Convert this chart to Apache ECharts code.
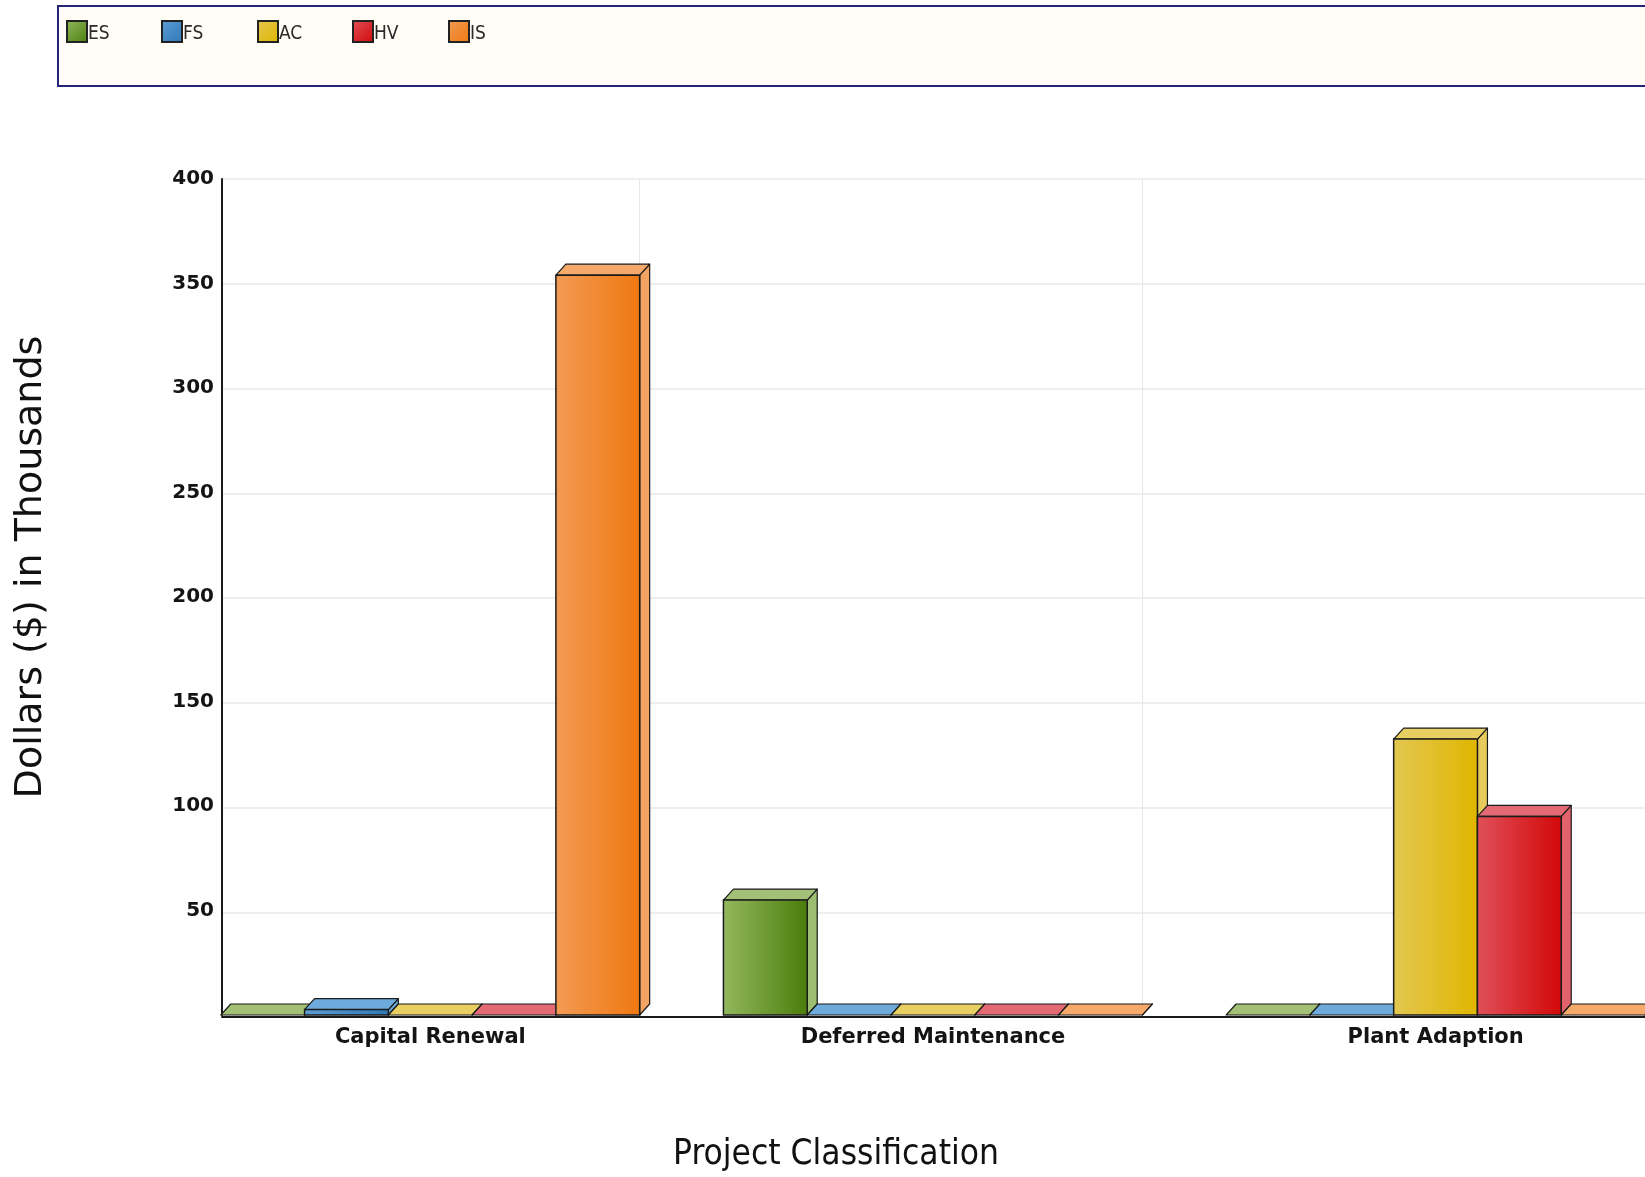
<!DOCTYPE html>
<html>
<head>
<meta charset="utf-8">
<title>Project Classification</title>
<script src="https://cdn.jsdelivr.net/npm/echarts@6/dist/echarts.min.js"></script>
<style>
  html, body { margin: 0; padding: 0; background: #ffffff; }
  #chart { width: 1645px; height: 1177px; }
</style>
</head>
<body>
<div id="chart"></div>
<script>
// Project classifications on the category axis
const categories = ['Capital Renewal', 'Deferred Maintenance', 'Plant Adaption'];

// Funding groups (legend order)
const groupNames = ['ES', 'FS', 'AC', 'HV', 'IS'];

// Dollars in thousands, one value per classification
const esValues = [0, 55, 0];
const fsValues = [2.6, 0, 0];
const acValues = [0, 0, 132];
const hvValues = [0, 0, 95];
const isValues = [354, 0, 0];

// Value axis range
const yMin = 0;
const yMax = 400;
const yStep = 50;

const groupValues = [esValues, fsValues, acValues, hvValues, isValues];

// Face colours for each group: front gradient (light -> dark), top and side faces
const palette = [
  { light: '#93b85e', dark: '#4a7d0a', top: '#a2c177', side: '#9dbd70' },
  { light: '#5d9dd2', dark: '#2f78b8', top: '#6eaadb', side: '#66a4d8' },
  { light: '#e3c752', dark: '#e0b600', top: '#e8cf62', side: '#e6cb5c' },
  { light: '#e0505a', dark: '#d20808', top: '#e36a74', side: '#e2626c' },
  { light: '#f29b55', dark: '#f07810', top: '#f5a96a', side: '#f3a463' }
];
const edgeColor = '#1b1b1b';
const depthX = 10;
const depthY = 11;

// Draws one bar as a box: right side face, top face, then the front face.
function renderBox(params, api) {
  const cat = api.value(0);
  const val = api.value(1);
  const band = api.size([1, 0])[0];
  const slot = band / 6;
  const zero = api.coord([cat, 0]);
  const peak = api.coord([cat, val]);
  const x0 = zero[0] - band / 2 + slot * (params.seriesIndex + 1);
  const x1 = x0 + slot;
  const base = zero[1];
  const top = peak[1];
  const pal = palette[params.seriesIndex];
  const children = [
    {
      type: 'polygon',
      shape: { points: [[x1, base], [x1 + depthX, base - depthY], [x1 + depthX, top - depthY], [x1, top]] },
      style: { fill: pal.side, stroke: edgeColor, lineWidth: 1.2, lineJoin: 'round' }
    },
    {
      type: 'polygon',
      shape: { points: [[x0, top], [x0 + depthX, top - depthY], [x1 + depthX, top - depthY], [x1, top]] },
      style: { fill: pal.top, stroke: edgeColor, lineWidth: 1.2, lineJoin: 'round' }
    }
  ];
  if (base - top > 0.5) {
    children.push({
      type: 'rect',
      shape: { x: x0, y: top, width: slot, height: base - top },
      style: {
        fill: new echarts.graphic.LinearGradient(0, 0, 1, 0, [
          { offset: 0, color: pal.light },
          { offset: 1, color: pal.dark }
        ]),
        stroke: edgeColor,
        lineWidth: 1.5
      }
    });
  }
  return { type: 'group', children: children };
}

const series = groupNames.map(function (name, i) {
  return {
    name: name,
    type: 'custom',
    xAxisIndex: 0,
    yAxisIndex: 0,
    renderItem: renderBox,
    encode: { x: 0, y: 1 },
    itemStyle: {
      color: new echarts.graphic.LinearGradient(0, 0, 1, 1, [
        { offset: 0, color: palette[i].light },
        { offset: 1, color: palette[i].dark }
      ])
    },
    data: groupValues[i].map(function (v, c) { return [c, v]; })
  };
});

// One legend block per group, spaced evenly along the banner
const legendLeft = [66, 161, 257, 352, 448];
const legends = groupNames.map(function (name, i) {
  return {
    data: [name],
    left: legendLeft[i],
    top: 20,
    padding: 0,
    itemWidth: 20,
    itemHeight: 21,
    icon: 'rect',
    itemStyle: { borderColor: '#222222', borderWidth: 2 },
    formatter: '{t|{name}}',
    textStyle: {
      fontFamily: '"Liberation Sans Narrow", "DejaVu Sans Condensed", sans-serif',
      fontSize: 19,
      color: '#2a2a2a',
      rich: {
        t: {
          fontFamily: '"Liberation Sans Narrow", "DejaVu Sans Condensed", sans-serif',
          fontSize: 19,
          color: '#2a2a2a',
          padding: [6, 0, 0, -4]
        }
      }
    },
    selectedMode: false
  };
});

const gridTop = 179;
const gridBottom = 160;
const axisFont = '"DejaVu Sans", Verdana, sans-serif';

const option = {
  backgroundColor: '#ffffff',
  animation: false,
  graphic: [
    {
      type: 'rect',
      left: 57,
      top: 5,
      z: -1,
      shape: { width: 1660, height: 80 },
      style: { fill: '#fffdf5', stroke: '#262678', lineWidth: 2 }
    }
  ],
  legend: legends,
  grid: [
    { left: 137, right: 0, top: gridTop, bottom: gridBottom },
    { left: 222, right: 0, top: gridTop, bottom: gridBottom }
  ],
  xAxis: [
    {
      type: 'category',
      gridIndex: 0,
      data: categories,
      boundaryGap: true,
      axisLine: { show: false },
      axisTick: { show: false },
      splitLine: {
        show: true,
        showMinLine: false,
        showMaxLine: false,
        lineStyle: { color: '#e6e6e6', width: 1 }
      },
      axisLabel: {
        margin: 12,
        padding: [0, 0, 0, 84],
        fontFamily: axisFont,
        fontWeight: 'bold',
        fontSize: 21,
        color: '#141414'
      },
      name: 'Project Classification',
      nameLocation: 'middle',
      nameGap: 122,
      nameTextStyle: {
        fontFamily: '"Liberation Sans Narrow", "DejaVu Sans Condensed", sans-serif',
        fontSize: 35,
        color: '#111111',
        padding: [0, 110, 0, 0]
      }
    },
    {
      type: 'value',
      gridIndex: 1,
      min: 0,
      max: 1,
      axisLine: { show: true, lineStyle: { color: '#1a1a1a', width: 2 } },
      axisTick: { show: false },
      axisLabel: { show: false },
      splitLine: { show: false }
    }
  ],
  yAxis: [
    {
      type: 'value',
      gridIndex: 0,
      min: yMin,
      max: yMax,
      interval: yStep,
      offset: -85,
      axisLine: { show: true, lineStyle: { color: '#1a1a1a', width: 2 } },
      axisTick: { show: false },
      splitLine: { show: false },
      axisLabel: {
        margin: 8,
        showMinLabel: false,
        fontFamily: axisFont,
        fontWeight: 'bold',
        fontSize: 20,
        color: '#141414'
      },
      name: 'Dollars ($) in Thousands',
      nameLocation: 'middle',
      nameRotate: 90,
      nameGap: 172,
      nameTextStyle: {
        fontFamily: axisFont,
        fontSize: 38,
        color: '#111111',
        padding: [0, 0, 0, 60]
      }
    },
    {
      type: 'value',
      gridIndex: 1,
      min: yMin,
      max: yMax,
      interval: yStep,
      axisLine: { show: false },
      axisTick: { show: false },
      axisLabel: { show: false },
      splitLine: { show: true, lineStyle: { color: '#e8e8e8', width: 1.5 } }
    }
  ],
  series: series
};

const chart = echarts.init(document.getElementById('chart'), null, { renderer: 'canvas' });
chart.setOption(option);
</script>
</body>
</html>
